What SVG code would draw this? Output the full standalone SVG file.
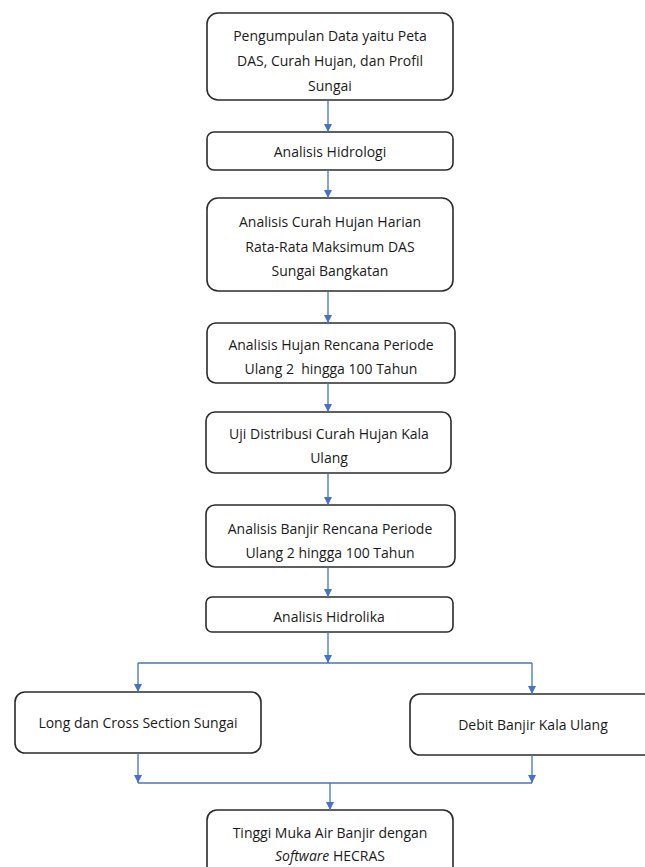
<svg xmlns="http://www.w3.org/2000/svg" width="645" height="867" viewBox="0 0 645 867">
<defs>
<marker id="ah" viewBox="0 0 10 10" refX="10" refY="5" markerWidth="8" markerHeight="8" markerUnits="userSpaceOnUse" orient="auto">
<path d="M0,0 L10,5 L0,10 z" fill="#4472C4"/>
</marker>
<style>
.box{fill:#ffffff;stroke:#2b2b2b;stroke-width:1.6}
.t{font-family:"Open Sans","Liberation Sans",sans-serif;font-size:14px;font-weight:500;fill:#1a1a1a;text-anchor:middle;dominant-baseline:central}
.c{fill:none;stroke:#4472C4;stroke-width:1.3}
</style>
</defs>
<rect width="645" height="867" fill="#ffffff"/>
<g id="n1"><rect class="box" x="207" y="13" width="246" height="87" rx="11"/>
<text class="t" x="330" y="35">Pengumpulan Data yaitu Peta</text>
<text class="t" x="330" y="60">DAS, Curah Hujan, dan Profil</text>
<text class="t" x="330" y="85">Sungai</text></g>
<g id="n2"><rect class="box" x="207" y="132" width="246" height="38" rx="7"/>
<text class="t" x="330" y="151">Analisis Hidrologi</text></g>
<g id="n3"><rect class="box" x="207" y="198" width="246" height="93" rx="11"/>
<text class="t" x="330" y="221">Analisis Curah Hujan Harian</text>
<text class="t" x="330" y="246">Rata-Rata Maksimum DAS</text>
<text class="t" x="330" y="270">Sungai Bangkatan</text></g>
<g id="n4"><rect class="box" x="207" y="323" width="248" height="60" rx="9"/>
<text class="t" x="331" y="344">Analisis Hujan Rencana Periode</text>
<text class="t" x="331" y="368" xml:space="preserve">Ulang 2  hingga 100 Tahun</text></g>
<g id="n5"><rect class="box" x="206" y="412" width="245" height="61" rx="9"/>
<text class="t" x="329" y="433">Uji Distribusi Curah Hujan Kala</text>
<text class="t" x="329" y="457">Ulang</text></g>
<g id="n6"><rect class="box" x="206" y="505" width="249" height="62" rx="9"/>
<text class="t" x="330" y="528">Analisis Banjir Rencana Periode</text>
<text class="t" x="330" y="552">Ulang 2 hingga 100 Tahun</text></g>
<g id="n7"><rect class="box" x="206" y="597" width="247" height="35" rx="6"/>
<text class="t" x="329" y="616">Analisis Hidrolika</text></g>
<g id="n8"><rect class="box" x="15" y="692" width="246" height="61" rx="10"/>
<text class="t" x="138" y="722">Long dan Cross Section Sungai</text></g>
<g id="n9"><rect class="box" x="410" y="694" width="250" height="61" rx="10"/>
<text class="t" x="533" y="724">Debit Banjir Kala Ulang</text></g>
<g id="n10"><rect class="box" x="207" y="810" width="246" height="70" rx="10"/>
<text class="t" x="330" y="832">Tinggi Muka Air Banjir dengan</text>
<text class="t" x="330" y="855"><tspan font-style="italic">Software</tspan> HECRAS</text></g>
<g id="connectors">
<path class="c" d="M328,100 V132" marker-end="url(#ah)"/>
<path class="c" d="M328,170 V198" marker-end="url(#ah)"/>
<path class="c" d="M328,291 V323" marker-end="url(#ah)"/>
<path class="c" d="M328,383 V412" marker-end="url(#ah)"/>
<path class="c" d="M328,473 V505" marker-end="url(#ah)"/>
<path class="c" d="M328,567 V597" marker-end="url(#ah)"/>
<path class="c" d="M328,632 V663" marker-end="url(#ah)"/>
<path class="c" d="M138,663 H532"/>
<path class="c" d="M138,663 V692" marker-end="url(#ah)"/>
<path class="c" d="M532,663 V694" marker-end="url(#ah)"/>
<path class="c" d="M138,753 V783" marker-end="url(#ah)"/>
<path class="c" d="M532,755 V783" marker-end="url(#ah)"/>
<path class="c" d="M138,783 H532"/>
<path class="c" d="M330,783 V810" marker-end="url(#ah)"/>
</g>
</svg>
